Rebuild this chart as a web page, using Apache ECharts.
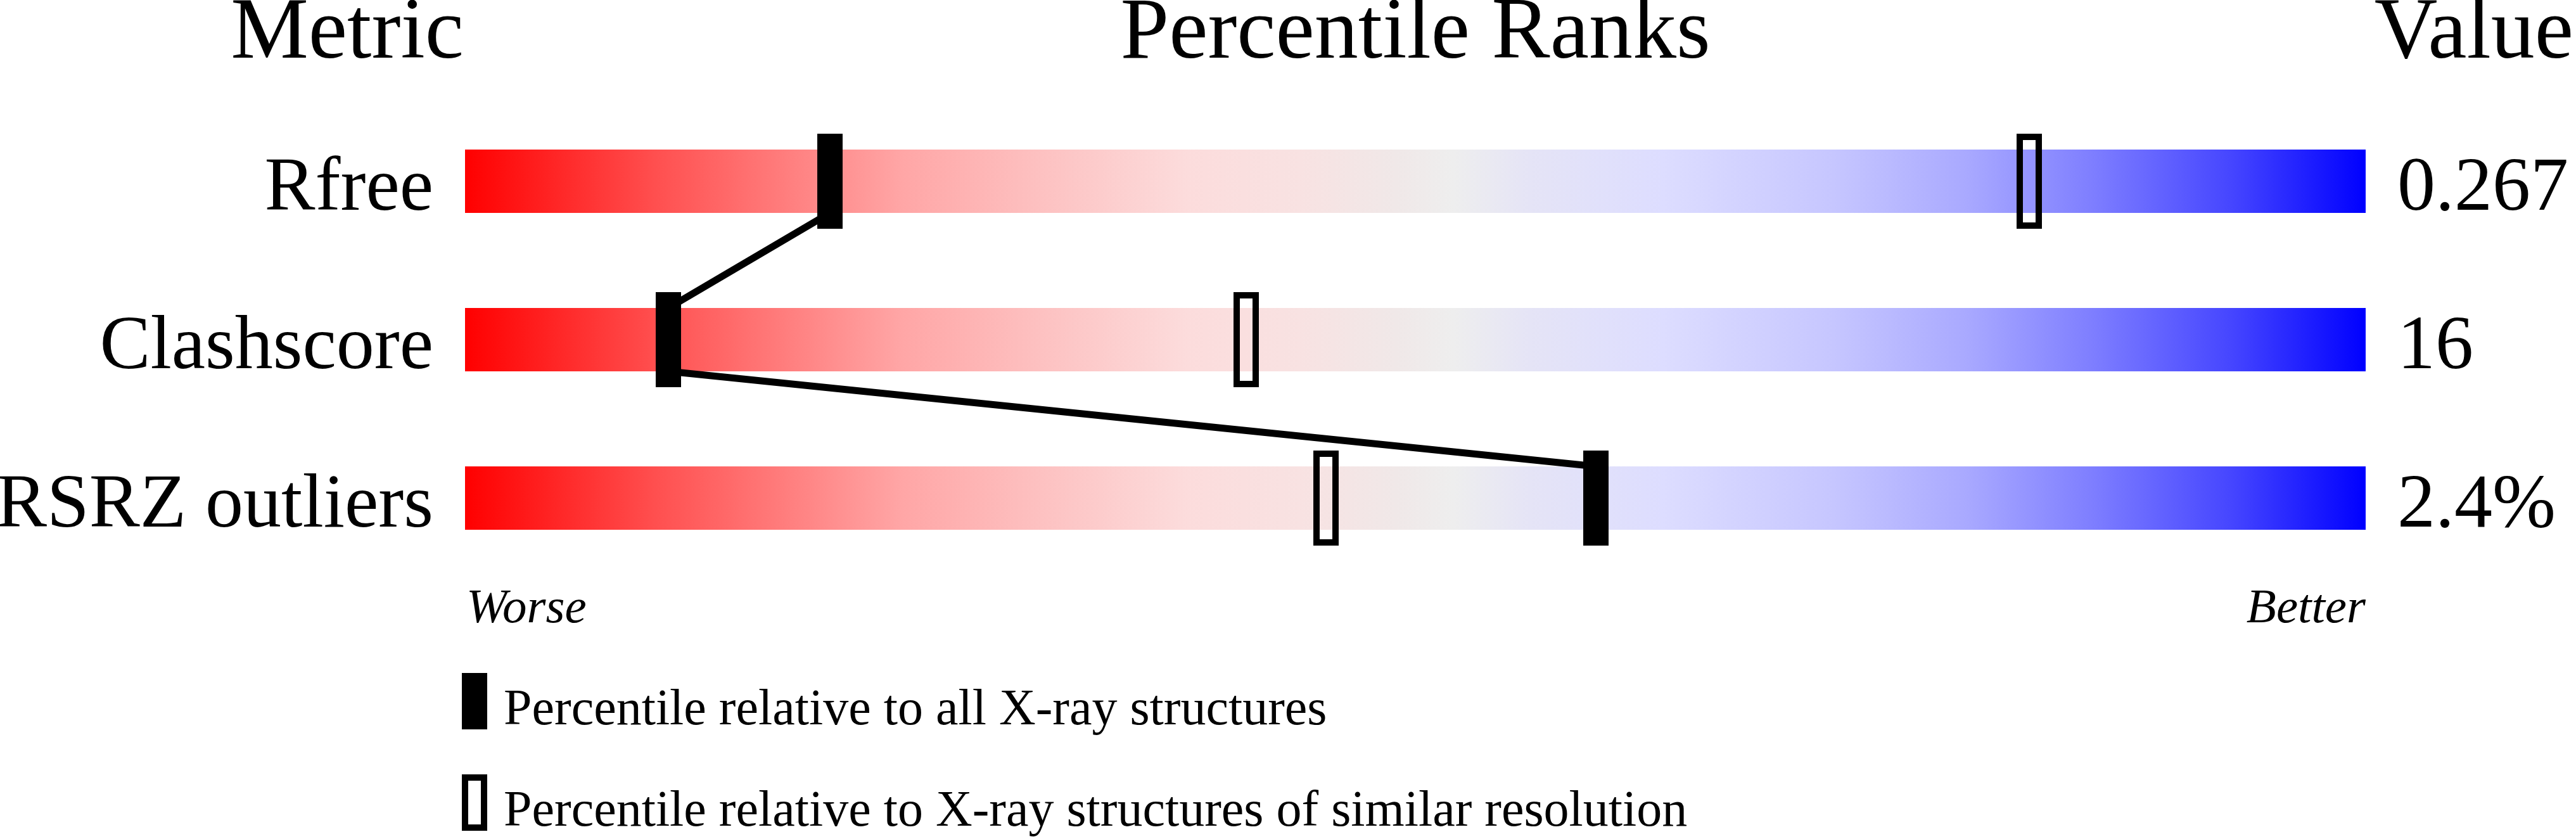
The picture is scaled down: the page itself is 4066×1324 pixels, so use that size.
<!DOCTYPE html>
<html>
<head>
<meta charset="utf-8">
<script src="https://cdn.jsdelivr.net/npm/echarts@6/dist/echarts.min.js"></script>
<style>
html,body{margin:0;padding:0;background:#fff;}
#chart{width:4066px;height:1324px;}
</style>
</head>
<body>
<div id="chart"></div>
<script>
// ---- data ----
const metrics = ['Rfree', 'Clashscore', 'RSRZ outliers'];
const metricValues = ['0.267', '16', '2.4%'];
const pctAll = [19.2, 10.7, 59.5];        // percentile relative to all X-ray structures
const pctSimilar = [82.3, 41.1, 45.3];    // percentile relative to similar resolution
const headers = ['Metric', 'Percentile Ranks', 'Value'];
const scaleEnds = ['Worse', 'Better'];
const legendLabels = ['Percentile relative to all X-ray structures',
                      'Percentile relative to X-ray structures of similar resolution'];

// ---- style ----
const FONT = "'Liberation Serif','Times New Roman',serif";
const MID = 0.305; // canvas 'middle' offset above baseline (em)
const LABEL_FS = 120, LABEL_GAP = 50;
const BAR_H = 100, MK_W = 40, MK_H = 150, MK_BORDER = 10, LINE_W = 11;
const gradStops = [
  [0.00, '#ff0000'], [0.10, '#ff4f4f'], [0.19, '#ff8c8c'], [0.23, '#ffa6a6'],
  [0.30, '#fdc0c0'], [0.38, '#fcdcdc'], [0.44, '#f8e2e2'], [0.49, '#f0e8e8'],
  [0.52, '#eeeeee'], [0.56, '#e5e4f6'], [0.63, '#ddddff'], [0.72, '#c6c6ff'],
  [0.79, '#a9a9ff'], [0.855, '#7f7fff'], [0.93, '#4545ff'], [1.00, '#0000ff']
];
const grad = () => new echarts.graphic.LinearGradient(0, 0, 1, 0,
  gradStops.map(s => ({offset: s[0], color: s[1]})));

const chart = echarts.init(document.getElementById('chart'), null, {renderer: 'canvas'});

chart.setOption({
  animation: false,
  backgroundColor: '#fff',
  grid: {left: 734, right: 332, top: 161, height: 750,
         containLabel: false, outerBoundsMode: 'none'},
  xAxis: {type: 'value', min: 0, max: 100, show: false},
  yAxis: {type: 'category', data: metrics, inverse: true, show: false},
  series: [
    {
      name: 'bars', type: 'custom', z: 1,
      data: metrics.map((m, i) => [0, i, 100]),
      encode: {x: [0, 2], y: 1},
      renderItem: function (params, api) {
        const i = api.value(1);
        const s = api.coord([api.value(0), i]);
        const e = api.coord([api.value(2), i]);
        const base = s[1] + BAR_H / 2;
        return {type: 'group', children: [
          {type: 'rect',
           shape: {x: s[0], y: s[1] - BAR_H / 2, width: e[0] - s[0], height: BAR_H},
           style: {fill: grad()}},
          {type: 'text', x: s[0] - LABEL_GAP, y: base - MID * LABEL_FS,
           style: {text: metrics[i], fill: '#000', font: LABEL_FS + 'px ' + FONT,
                   align: 'right', verticalAlign: 'middle'}},
          {type: 'text', x: e[0] + LABEL_GAP, y: base - MID * LABEL_FS,
           style: {text: metricValues[i], fill: '#000', font: LABEL_FS + 'px ' + FONT,
                   align: 'left', verticalAlign: 'middle'}}
        ]};
      }
    },
    {
      name: 'links', type: 'custom', z: 2,
      data: pctAll.slice(1).map((p, i) => [pctAll[i], i, p, i + 1]),
      encode: {x: [0, 2], y: [1, 3]},
      renderItem: function (params, api) {
        const a = api.coord([api.value(0), api.value(1)]);
        const b = api.coord([api.value(2), api.value(3)]);
        return {type: 'line',
          shape: {x1: a[0], y1: a[1] + BAR_H / 2, x2: b[0], y2: b[1] - BAR_H / 2},
          style: {stroke: '#000', lineWidth: LINE_W}};
      }
    },
    {
      name: legendLabels[1], type: 'custom', z: 3,
      data: pctSimilar.map((p, i) => [p, i]),
      encode: {x: 0, y: 1},
      renderItem: function (params, api) {
        const c = api.coord([api.value(0), api.value(1)]);
        return {type: 'rect',
          shape: {x: c[0] - MK_W / 2 + MK_BORDER / 2, y: c[1] - MK_H / 2 + MK_BORDER / 2,
                  width: MK_W - MK_BORDER, height: MK_H - MK_BORDER},
          style: {fill: 'none', stroke: '#000', lineWidth: MK_BORDER}};
      }
    },
    {
      name: legendLabels[0], type: 'custom', z: 4,
      data: pctAll.map((p, i) => [p, i]),
      encode: {x: 0, y: 1},
      renderItem: function (params, api) {
        const c = api.coord([api.value(0), api.value(1)]);
        return {type: 'rect',
          shape: {x: c[0] - MK_W / 2, y: c[1] - MK_H / 2, width: MK_W, height: MK_H},
          style: {fill: '#000'}};
      }
    }
  ]
});

// ---- text and legend (positions derived from the axis scale) ----
const x0 = chart.convertToPixel({xAxisIndex: 0}, 0);
const x100 = chart.convertToPixel({xAxisIndex: 0}, 100);
const xMid = chart.convertToPixel({xAxisIndex: 0}, 50);
const txt = (text, x, baseline, size, align, italic) => ({
  type: 'text', silent: true,
  style: {text: text, x: x, y: baseline - MID * size, fill: '#000',
          font: (italic ? 'italic ' : '') + size + 'px ' + FONT,
          align: align, verticalAlign: 'middle'}
});
const HS = 138;
chart.setOption({
  graphic: [
    txt(headers[0], x0 - 2, 97, HS, 'right'),
    txt(headers[1], xMid, 97, HS, 'center'),
    txt(headers[2], 4062, 97, HS, 'right'),
    txt(scaleEnds[0], x0 + 2, 985, 77, 'left', true),
    txt(scaleEnds[1], x100, 985, 77, 'right', true),
    {type: 'rect', shape: {x: x0 - 5, y: 1062, width: 40, height: 89}, style: {fill: '#000'}},
    {type: 'rect', shape: {x: x0, y: 1227, width: 30, height: 79},
     style: {fill: 'none', stroke: '#000', lineWidth: 10}},
    txt(legendLabels[0], x0 + 61, 1146, 80, 'left'),
    txt(legendLabels[1], x0 + 61, 1306, 80, 'left')
  ]
});
</script>
</body>
</html>
